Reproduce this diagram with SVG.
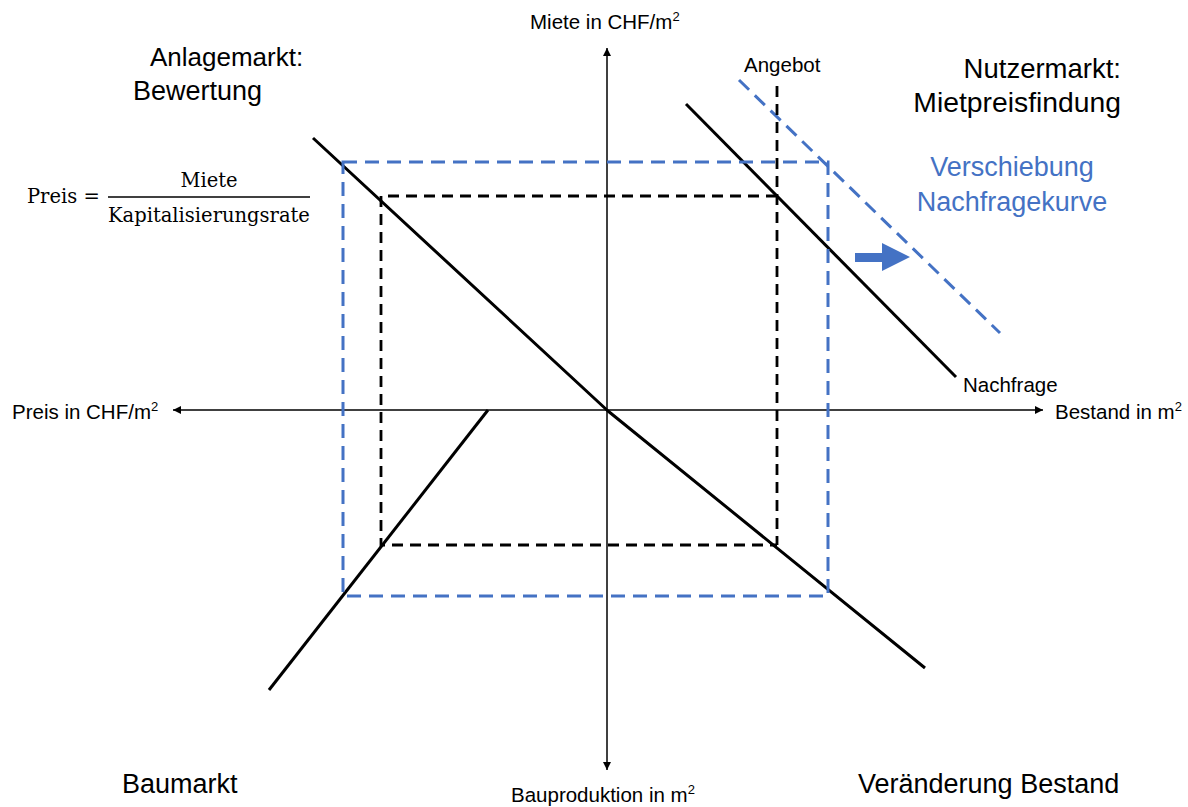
<svg xmlns="http://www.w3.org/2000/svg" width="1188" height="807" viewBox="0 0 1188 807">
<defs>
<style>
.t{font-family:"Liberation Sans",Arial,sans-serif;fill:#000}
.big{font-size:27px}
.sm{font-size:20.5px}
.blue{fill:#4472C4}
.f{font-family:"DejaVu Serif","Liberation Serif",serif;font-size:19.5px;fill:#000}
.axis{stroke:#000;stroke-width:1.5;fill:none}
.curve{stroke:#000;stroke-width:3;fill:none;stroke-linejoin:round}
.bd{stroke:#000;stroke-width:2.8;fill:none;stroke-dasharray:11 7}
.ud{stroke:#4472C4;stroke-width:3;fill:none;stroke-dasharray:14 8}
</style>
<marker id="ah" viewBox="0 0 10 10" refX="10" refY="5" markerWidth="8" markerHeight="8" markerUnits="userSpaceOnUse" orient="auto">
<path d="M0,0 L10,5 L0,10 z" fill="#000"/>
</marker>
</defs>
<rect width="1188" height="807" fill="#fff"/>
<g id="connectors">
<line class="axis" x1="607" y1="410" x2="607" y2="48" marker-end="url(#ah)"/>
<line class="axis" x1="607" y1="410" x2="607" y2="770" marker-end="url(#ah)"/>
<line class="axis" x1="607" y1="410" x2="173" y2="410" marker-end="url(#ah)"/>
<line class="axis" x1="607" y1="410" x2="1043" y2="410" marker-end="url(#ah)"/>
</g>
<g id="bewertung-line"><polyline class="curve" points="313,138 608,411 925,668"/></g>
<g id="baumarkt-line"><line class="curve" x1="488" y1="410" x2="269" y2="690"/></g>
<g id="nachfrage-line"><line class="curve" x1="686" y1="104" x2="956" y2="377"/></g>
<g id="nachfrage-verschoben"><line class="ud" x1="739" y1="80" x2="1000" y2="333"/></g>
<g id="gleichgewicht-alt"><polyline class="bd" points="777,196 381,196 381,545 777,545"/><line class="bd" x1="777" y1="86" x2="777" y2="545"/></g>
<g id="gleichgewicht-neu"><rect class="ud" x="343" y="162" width="485" height="434"/></g>
<g id="shift-arrow"><path d="M855,253 L882,253 L882,243 L910,257 L882,271 L882,262 L855,262 z" fill="#4472C4"/></g>
<g id="labels">
<text class="t" font-size="26" x="150" y="66">Anlagemarkt:</text>
<text class="t big" x="133" y="100">Bewertung</text>
<text class="t" font-size="27.5" x="1121" y="78" text-anchor="end">Nutzermarkt:</text>
<text class="t" font-size="28.3" x="1121" y="112" text-anchor="end">Mietpreisfindung</text>
<text class="t big blue" x="1012" y="176" text-anchor="middle">Verschiebung</text>
<text class="t big blue" x="1012" y="211" text-anchor="middle">Nachfragekurve</text>
<text class="t big" x="122" y="793">Baumarkt</text>
<text class="t big" x="858" y="793">Veränderung Bestand</text>
<text class="t sm" x="530" y="29">Miete in CHF/m<tspan font-size="13" dy="-8">2</tspan></text>
<text class="t sm" x="744" y="72">Angebot</text>
<text class="t sm" x="963" y="392">Nachfrage</text>
<text class="t sm" x="12" y="419">Preis in CHF/m<tspan font-size="13" dy="-8">2</tspan></text>
<text class="t sm" x="1055" y="419">Bestand in m<tspan font-size="13" dy="-8">2</tspan></text>
<text class="t sm" x="511" y="802">Bauproduktion in m<tspan font-size="13" dy="-8">2</tspan></text>
</g>
<g id="formel">
<text class="f" x="27" y="203">Preis =</text>
<line x1="108" y1="197" x2="310" y2="197" stroke="#000" stroke-width="1.5"/>
<text class="f" x="209" y="187" text-anchor="middle">Miete</text>
<text class="f" x="108" y="222">Kapitalisierungsrate</text>
</g>
</svg>
